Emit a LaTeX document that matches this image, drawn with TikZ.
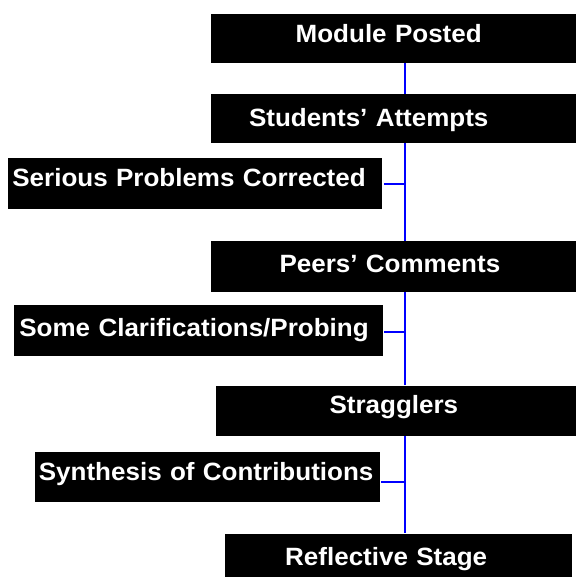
\documentclass[tikz,border=0pt]{standalone}
\usepackage{fontspec}
\setmainfont{Liberation Sans}[FakeStretch=1.04]
\definecolor{spineblue}{RGB}{0,0,255}
\begin{document}
\begin{tikzpicture}[x=1pt,y=-1pt,
  stage/.style={fill=black,text=white,inner sep=0pt,anchor=north west,
    font=\fontsize{25}{25}\selectfont\bfseries,align=left},
  link/.style={draw=spineblue,line width=2pt}]
\useasboundingbox (0,0) rectangle (576,577);
\fill[white] (0,0) rectangle (576,577);
\node[stage,text width=365pt,text height=28.7pt,text depth=20pt] (m1) at (211,14) {\hspace*{84.5pt}Module Posted};
\node[stage,text width=365pt,text height=32pt,text depth=16.7pt] (m2) at (211,94) {\hspace*{37.8pt}Students’ Attempts};
\node[stage,text width=374pt,text height=27.7pt,text depth=23pt] (m3) at (8,158.3) {\hspace*{4.2pt}Serious Problems Corrected};
\node[stage,text width=365pt,text height=31.7pt,text depth=19.3pt] (m4) at (211,241) {\hspace*{68.3pt}Peers’ Comments};
\node[stage,text width=369pt,text height=31pt,text depth=19.7pt] (m5) at (14,305) {\hspace*{5.2pt}Some Clarifications/Probing};
\node[stage,text width=360pt,text height=28pt,text depth=22.4pt] (m6) at (216,385.3) {\hspace*{113.4pt}Stragglers};
\node[stage,text width=344.5pt,text height=28.7pt,text depth=21.7pt] (m7) at (35,451.3) {\hspace*{3.7pt}Synthesis of Contributions};
\node[stage,text width=347pt,text height=32.4pt,text depth=11.3pt] (m8) at (225,533.3) {\hspace*{60pt}Reflective Stage};
\coordinate (sp) at (404.5,0);
\draw[link] (m1.south -| sp) -- (m2.north -| sp);
\draw[link] (m2.south -| sp) -- (m4.north -| sp);
\draw[link] (m4.south -| sp) -- (m6.north -| sp);
\draw[link] (m6.south -| sp) -- (m8.north -| sp);
\coordinate (c3) at ([xshift=1.5pt]m3.east);
\coordinate (c5) at ([xshift=1pt,yshift=-1.6pt]m5.east);
\coordinate (c7) at ([xshift=1.5pt,yshift=-5.5pt]m7.east);
\draw[link] (c3) -- (c3 -| sp);
\draw[link] (c5) -- (c5 -| sp);
\draw[link] (c7) -- (c7 -| sp);
\end{tikzpicture}
\end{document}
